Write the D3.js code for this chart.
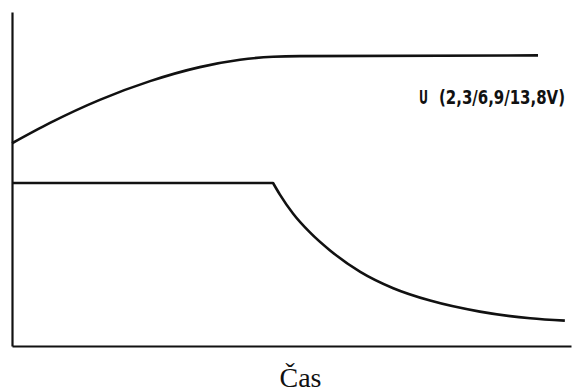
<!DOCTYPE html>
<html>
<head>
<meta charset="utf-8">
<script src="https://cdn.jsdelivr.net/npm/d3@7"></script>
<style>
  html, body { margin: 0; padding: 0; background: #fff; }
  svg { display: block; }
</style>
</head>
<body>
<script>
// ---- data (time in % of axis length, values in % of axis height) ----
const upperTime   = [0, 6.8, 15.7, 24.7, 33.6, 40.8, 46.7, 51.5, 94.1];
const upperValues = [60.7, 66.8, 73.7, 79.3, 83.5, 85.7, 86.6, 86.8, 87.0];
const lowerTime   = [0, 46.7, 47.9, 50.3, 53.3, 56.9, 62.3, 68.2, 74.8, 83.7, 92.7, 98.9];
const lowerValues = [48.8, 48.8, 45.4, 39.6, 34.0, 28.6, 22.2, 17.3, 13.6, 10.3, 8.3, 7.6];
const lowerBreakIndex = 1; // sharp corner where the decay starts
const seriesLabelName = "U";
const seriesLabelRange = "(2,3/6,9/13,8V)";
const xAxisTitle = "Čas";

const W = 582, H = 392;
const svg = d3.select("body").append("svg").attr("width", W).attr("height", H);

const x = d3.scaleLinear().domain([0, 100]).range([12, 571]);
const y = d3.scaleLinear().domain([0, 100]).range([346, 12]);

// axes (no ticks, just the lines)
const gx = svg.append("g").attr("transform", `translate(0,${y(0)})`)
  .call(d3.axisBottom(x).ticks(0).tickSize(0).tickSizeOuter(0));
const gy = svg.append("g").attr("transform", `translate(${x(0)},0)`)
  .call(d3.axisLeft(y).ticks(0).tickSize(0).tickSizeOuter(0));
[gx, gy].forEach(g => {
  g.select(".domain").attr("stroke", "#111").attr("stroke-width", 2.2);
  g.selectAll("text").remove();
});

const smooth = d3.line().x(d => x(d[0])).y(d => y(d[1])).curve(d3.curveMonotoneX);
const straight = d3.line().x(d => x(d[0])).y(d => y(d[1]));

const upper = upperTime.map((t, i) => [t, upperValues[i]]);
const lower = lowerTime.map((t, i) => [t, lowerValues[i]]);

svg.append("path").datum(upper)
  .attr("d", smooth).attr("fill", "none")
  .attr("stroke", "#111").attr("stroke-width", 2.6)
  .attr("stroke-linejoin", "round");

const lowerPath = straight(lower.slice(0, lowerBreakIndex + 1)) +
  smooth(lower.slice(lowerBreakIndex)).replace(/^M/, "L");
svg.append("path")
  .attr("d", lowerPath).attr("fill", "none")
  .attr("stroke", "#111").attr("stroke-width", 2.6)
  .attr("stroke-linejoin", "round");

// series label
const lbl = svg.append("text")
  .attr("y", 104)
  .attr("font-family", "'Liberation Sans Narrow', 'DejaVu Sans Condensed', 'Liberation Sans', sans-serif")
  .attr("font-weight", "bold")
  .attr("font-size", 19)
  .attr("fill", "#111");
lbl.append("tspan").attr("x", 419).attr("textLength", 9)
  .attr("lengthAdjust", "spacingAndGlyphs").text(seriesLabelName);
lbl.append("tspan").attr("x", 439).attr("textLength", 126)
  .attr("lengthAdjust", "spacingAndGlyphs").text(seriesLabelRange);

// x axis title
svg.append("text")
  .attr("x", 300.5).attr("y", 387)
  .attr("text-anchor", "middle")
  .attr("font-family", "'Liberation Serif', 'Times New Roman', serif")
  .attr("font-size", 28)
  .attr("fill", "#111")
  .text(xAxisTitle);
</script>
</body>
</html>
